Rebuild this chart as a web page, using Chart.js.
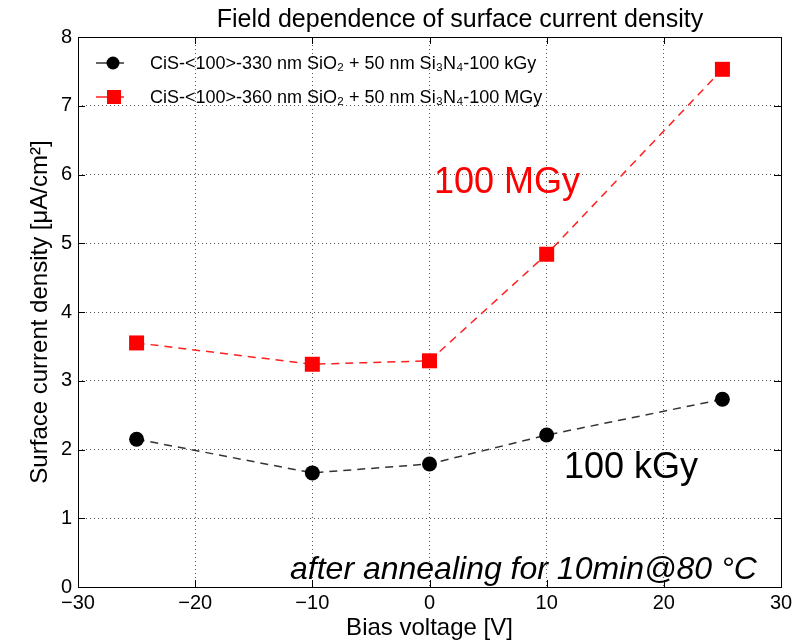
<!DOCTYPE html>
<html>
<head>
<meta charset="utf-8">
<script src="https://cdn.jsdelivr.net/npm/chart.js@4/dist/chart.umd.min.js"></script>
<style>
  html, body { margin: 0; padding: 0; background: #fff; }
  #wrap { width: 800px; height: 644px; }
</style>
</head>
<body>
<div id="wrap"><canvas id="chart" width="800" height="644"></canvas></div>
<script>
// values
var biasVoltage = [-25, -10, 0, 10, 25];
var density100kGy = [2.15, 1.66, 1.79, 2.21, 2.73];
var density100MGy = [3.55, 3.24, 3.29, 4.84, 7.53];
var xTicks = [-30, -20, -10, 0, 10, 20, 30];
var yTicks = [0, 1, 2, 3, 4, 5, 6, 7, 8];

var label1 = 'CiS-<100>-330 nm SiO\u2082 + 50 nm Si\u2083N\u2084-100 kGy';
var label2 = 'CiS-<100>-360 nm SiO\u2082 + 50 nm Si\u2083N\u2084-100 MGy';

var FONT = '"Liberation Sans", Arial, sans-serif';

function toPoints(xs, ys) {
    return xs.map(function (x, i) { return { x: x, y: ys[i] }; });
}

// frame, inward ticks, title, legend and the text notes
var decorPlugin = {
    id: 'decor',
    afterDraw: function (chart) {
        var ctx = chart.ctx;
        var a = chart.chartArea;
        var xs = chart.scales.x, ys = chart.scales.y;
        ctx.save();
        ctx.strokeStyle = '#000';
        ctx.lineWidth = 1;
        ctx.setLineDash([]);
        ctx.beginPath();
        xTicks.forEach(function (t) {
            var px = Math.round(xs.getPixelForValue(t)) + 0.5;
            ctx.moveTo(px, a.bottom); ctx.lineTo(px, a.bottom - 7);
            ctx.moveTo(px, a.top); ctx.lineTo(px, a.top + 7);
        });
        yTicks.forEach(function (t) {
            var py = Math.round(ys.getPixelForValue(t)) + 0.5;
            ctx.moveTo(a.left, py); ctx.lineTo(a.left + 7, py);
            ctx.moveTo(a.right, py); ctx.lineTo(a.right - 7, py);
        });
        ctx.stroke();
        ctx.strokeRect(Math.round(a.left) + 0.5, Math.round(a.top) + 0.5,
                       Math.round(a.right - a.left), Math.round(a.bottom - a.top));

        // title
        ctx.fillStyle = '#000';
        ctx.textAlign = 'center';
        ctx.textBaseline = 'alphabetic';
        ctx.font = '25px ' + FONT;
        ctx.fillText('Field dependence of surface current density', 460, 27);

        // legend
        var ds = chart.data.datasets;
        var rows = [63, 97];
        ds.forEach(function (d, i) {
            var y = rows[i];
            ctx.strokeStyle = d.borderColor;
            ctx.lineWidth = 1.5;
            ctx.beginPath();
            ctx.moveTo(96, y); ctx.lineTo(124, y);
            ctx.stroke();
            ctx.fillStyle = d.pointBackgroundColor;
            ctx.beginPath();
            if (d.pointStyle === 'rect') {
                ctx.rect(107, y - 7, 14, 14);
            } else {
                ctx.arc(113, y, 6.5, 0, Math.PI * 2);
            }
            ctx.fill();
            ctx.fillStyle = '#000';
            ctx.textAlign = 'left';
            ctx.textBaseline = 'middle';
            ctx.font = '18px ' + FONT;
            ctx.fillText(d.label, 150, y + 1);
        });

        // notes
        ctx.textBaseline = 'alphabetic';
        ctx.textAlign = 'left';
        ctx.font = '36px ' + FONT;
        ctx.fillStyle = '#ff0000';
        ctx.fillText('100 MGy', 434, 193);
        ctx.fillStyle = '#000';
        ctx.fillText('100 kGy', 564, 478);
        ctx.font = 'italic 32px ' + FONT;
        ctx.fillText('after annealing for 10min@80 \u00b0C', 290, 579);
        ctx.restore();
    }
};

var ctx = document.getElementById('chart').getContext('2d');
var chart = new Chart(ctx, {
    type: 'scatter',
    data: {
        datasets: [{
            label: label1,
            data: toPoints(biasVoltage, density100kGy),
            showLine: true,
            borderColor: '#333333',
            borderWidth: 1.5,
            borderDash: [8, 6],
            pointStyle: 'circle',
            pointRadius: 7.5,
            pointBackgroundColor: '#000000',
            pointBorderColor: '#000000',
            pointBorderWidth: 0
        }, {
            label: label2,
            data: toPoints(biasVoltage, density100MGy),
            showLine: true,
            borderColor: '#ff2020',
            borderWidth: 1.5,
            borderDash: [8, 6],
            pointStyle: 'rect',
            pointRadius: 10.6,
            pointBackgroundColor: '#ff0000',
            pointBorderColor: '#ff0000',
            pointBorderWidth: 0
        }]
    },
    options: {
        responsive: false,
        animation: false,
        layout: { padding: { top: 37, right: 19, left: 0, bottom: 0 } },
        plugins: {
            legend: { display: false },
            title: { display: false },
            tooltip: { enabled: false }
        },
        scales: {
            x: {
                type: 'linear',
                min: -30,
                max: 30,
                afterFit: function (s) { s.height = 57; },
                afterBuildTicks: function (s) {
                    s.ticks = xTicks.map(function (v) { return { value: v }; });
                },
                ticks: {
                    color: '#000',
                    font: { family: FONT, size: 20 },
                    padding: 4,
                    maxRotation: 0,
                    callback: function (v) { return String(v).replace('-', '\u2212'); }
                },
                grid: { color: '#555', lineWidth: 1, drawTicks: false },
                border: { display: false, dash: [1, 3] },
                title: {
                    display: true,
                    text: 'Bias voltage [V]',
                    color: '#000',
                    font: { family: FONT, size: 24 },
                    padding: { top: 0, bottom: 1 }
                }
            },
            y: {
                type: 'linear',
                min: 0,
                max: 8,
                afterFit: function (s) { s.width = 78; },
                afterBuildTicks: function (s) {
                    s.ticks = yTicks.map(function (v) { return { value: v }; });
                },
                ticks: {
                    color: '#000',
                    font: { family: FONT, size: 20 },
                    padding: 6
                },
                grid: { color: '#555', lineWidth: 1, drawTicks: false },
                border: { display: false, dash: [1, 3] },
                title: {
                    display: true,
                    text: 'Surface current density [\u03bcA/cm\u00b2]',
                    color: '#000',
                    font: { family: FONT, size: 24 },
                    padding: { top: 26, bottom: 0 }
                }
            }
        }
    },
    plugins: [decorPlugin]
});
</script>
</body>
</html>
